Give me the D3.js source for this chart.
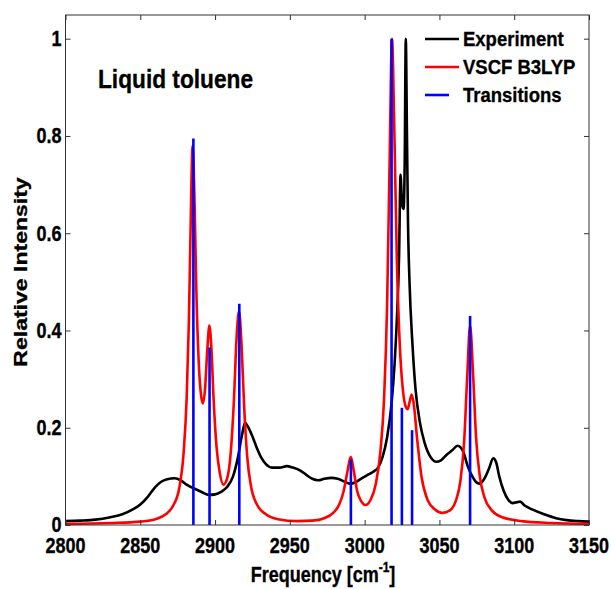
<!DOCTYPE html>
<html><head><meta charset="utf-8">
<script src="https://cdn.jsdelivr.net/npm/d3@7"></script>
<style>body{margin:0;background:#fff}svg{display:block}text{font-family:"Liberation Sans",Arial,sans-serif;font-weight:bold;fill:#000;stroke:#000;stroke-width:0.3px}</style>
</head><body><svg id="c" width="611" height="589"></svg>
<script>
// ---- data ----
const experiment = [[2800,0.008],[2810,0.009],[2820,0.011],[2830,0.016],[2838,0.022],[2845,0.032],[2850,0.042],[2855,0.058],[2860,0.078],[2864,0.089],[2868,0.094],[2873,0.096],[2877,0.092],[2881,0.083],[2886,0.075],[2891,0.068],[2896,0.062],[2900,0.063],[2904,0.068],[2908,0.078],[2912,0.1],[2915,0.135],[2918,0.185],[2920,0.21],[2922,0.202],[2925,0.182],[2928,0.158],[2931,0.138],[2934,0.125],[2938,0.118],[2943,0.118],[2948,0.121],[2952,0.118],[2957,0.112],[2961,0.103],[2965,0.095],[2969,0.092],[2973,0.095],[2978,0.097],[2982,0.095],[2986,0.09],[2990,0.085],[2994,0.088],[2998,0.096],[3002,0.103],[3006,0.11],[3009,0.118],[3012,0.14],[3015,0.18],[3018,0.25],[3020,0.33],[3021.5,0.42],[3023,0.55],[3024,0.72],[3025,0.66],[3026,0.65],[3026.8,0.75],[3027.5,1.0],[3028.3,0.8],[3029,0.62],[3030,0.5],[3032,0.37],[3034,0.28],[3037,0.21],[3040,0.17],[3044,0.14],[3048,0.13],[3051,0.133],[3055,0.145],[3059,0.155],[3062,0.163],[3064,0.16],[3066,0.15],[3069,0.12],[3072,0.1],[3075,0.087],[3077,0.085],[3080,0.095],[3083,0.115],[3086,0.137],[3088,0.128],[3090,0.1],[3093,0.07],[3096,0.052],[3099,0.045],[3102,0.047],[3104,0.048],[3107,0.04],[3112,0.032],[3120,0.022],[3128,0.014],[3135,0.01],[3143,0.008],[3150,0.007]];

const vscf = [[2800,0.002],[2830,0.004],[2850,0.007],[2860,0.012],[2867,0.022],[2872,0.04],[2876,0.075],[2879,0.15],[2881,0.26],[2882.5,0.42],[2883.7,0.62],[2885,0.78],[2886.3,0.66],[2887.5,0.48],[2889,0.34],[2890.5,0.27],[2891.8,0.25],[2893.3,0.28],[2894.8,0.36],[2896.2,0.41],[2897.6,0.36],[2899,0.26],[2901,0.16],[2903,0.11],[2905.5,0.083],[2908,0.095],[2910.5,0.15],[2912.5,0.25],[2914.3,0.38],[2916,0.44],[2917.7,0.37],[2919.5,0.24],[2921.5,0.14],[2924,0.08],[2928,0.042],[2934,0.022],[2942,0.012],[2955,0.008],[2965,0.009],[2973,0.014],[2979,0.025],[2983,0.042],[2986,0.07],[2988.5,0.11],[2990.7,0.14],[2992.8,0.11],[2995,0.07],[2997.5,0.05],[3000.5,0.041],[3004,0.052],[3007.5,0.085],[3010.5,0.15],[3013,0.26],[3015,0.45],[3016.7,0.75],[3018.3,1.0],[3019.8,0.82],[3021.5,0.55],[3023.5,0.37],[3025.5,0.28],[3027.3,0.245],[3028.8,0.238],[3030.2,0.255],[3031.5,0.268],[3033,0.245],[3035,0.18],[3038,0.1],[3042,0.052],[3047,0.032],[3052,0.025],[3057,0.03],[3061,0.05],[3064,0.09],[3066.5,0.17],[3068.5,0.3],[3070.5,0.41],[3072.5,0.31],[3074.5,0.18],[3077,0.1],[3080,0.058],[3085,0.03],[3092,0.016],[3105,0.008],[3125,0.004],[3150,0.002]];

const transFreq = [2885.5, 2896.3, 2916.2, 2990.8, 3018.0, 3024.9, 3031.7, 3070.5];
const transInt  = [0.795, 0.365, 0.455, 0.135, 1.0, 0.241, 0.195, 0.43];

const xTicks = [2800, 2850, 2900, 2950, 3000, 3050, 3100, 3150];
const yTicks = [0, 0.2, 0.4, 0.6, 0.8, 1];
const yTickLabels = ['0', '0.2', '0.4', '0.6', '0.8', '1'];
const legendLabels = ['Experiment', 'VSCF B3LYP', 'Transitions'];
const legendColors = ['#000000', '#ff0000', '#0000ff'];

// ---- layout ----
const L = 65.5, R = 589, T = 15, B = 525;
const svg = d3.select('#c');
const x = d3.scaleLinear().domain([2800, 3150]).range([L, R]);
const y = d3.scaleLinear().domain([0, 1]).range([B, 38.7]);

function txt(px, py, s, size, sy, anchor) {
  return svg.append('text').attr('transform', `translate(${px},${py}) scale(1,${sy})`)
    .attr('text-anchor', anchor).style('font-size', size + 'px').text(s);
}

// curves
const line = d3.line().x(d => x(d[0])).y(d => y(d[1])).curve(d3.curveMonotoneX);
svg.append('path').datum(experiment).attr('d', line).attr('fill', 'none')
  .attr('stroke', '#000').attr('stroke-width', 2.6).attr('stroke-linejoin', 'round');
svg.append('path').datum(vscf).attr('d', line).attr('fill', 'none')
  .attr('stroke', '#ff0000').attr('stroke-width', 2.6).attr('stroke-linejoin', 'round');
svg.selectAll('line.stick').data(transFreq).join('line').attr('class', 'stick')
  .attr('x1', d => x(d)).attr('x2', d => x(d))
  .attr('y1', y(0)).attr('y2', (d, i) => y(transInt[i]))
  .attr('stroke', '#0000ff').attr('stroke-width', 2.6);

// box and ticks
const ax = svg.append('g').attr('stroke', '#333').attr('fill', 'none');
ax.append('rect').attr('x', L).attr('y', T).attr('width', R - L).attr('height', B - T).attr('stroke-width', 1);
svg.append('g').attr('transform', `translate(0,${B})`).call(d3.axisBottom(x).tickValues(xTicks).tickSize(-5).tickFormat('')).call(g => g.select('.domain').remove()).selectAll('line').attr('stroke', '#333');
svg.append('g').attr('transform', `translate(0,${T})`).call(d3.axisTop(x).tickValues(xTicks).tickSize(-5).tickFormat('')).call(g => g.select('.domain').remove()).selectAll('line').attr('stroke', '#333');
svg.append('g').attr('transform', `translate(${L},0)`).call(d3.axisLeft(y).tickValues(yTicks).tickSize(-5).tickFormat('')).call(g => g.select('.domain').remove()).selectAll('line').attr('stroke', '#333');
svg.append('g').attr('transform', `translate(${R},0)`).call(d3.axisRight(y).tickValues(yTicks).tickSize(-5).tickFormat('')).call(g => g.select('.domain').remove()).selectAll('line').attr('stroke', '#333');

// tick labels
xTicks.forEach(t => txt(x(t), 553, String(t), 18, 1.22, 'middle'));
yTicks.forEach((t, i) => txt(61.5, y(t) + 7.3, yTickLabels[i], 18, 1.22, 'end'));

// axis titles
const xt = txt(323, 582, 'Frequency [cm', 18, 1.22, 'middle');
xt.append('tspan').attr('dy', -8).style('font-size', '12px').text('-1');
xt.append('tspan').attr('dy', 8).text(']');
svg.append('text').attr('transform', 'translate(27,272) rotate(-90) scale(1.28,1)')
  .attr('text-anchor', 'middle').style('font-size', '18px').text('Relative Intensity');

// annotation
txt(98, 87.5, 'Liquid toluene', 22.7, 1.15, 'start');

// legend
const legY = [39, 67, 95];
const legLen = [34, 34, 24];
legendLabels.forEach((s, i) => {
  svg.append('line').attr('x1', 425).attr('x2', 425 + legLen[i]).attr('y1', legY[i]).attr('y2', legY[i])
    .attr('stroke', legendColors[i]).attr('stroke-width', 2.6);
  txt(463, legY[i] + 7, s, 18.5, 1.05, 'start');
});
</script></body></html>
